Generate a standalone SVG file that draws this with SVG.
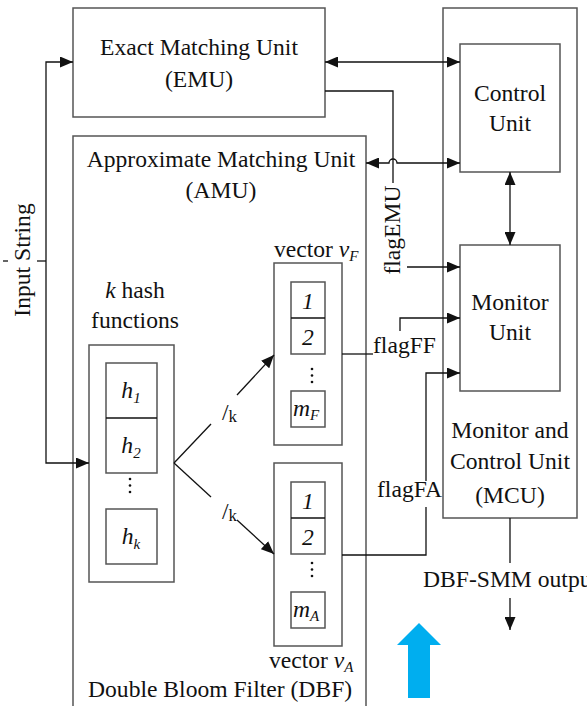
<svg xmlns="http://www.w3.org/2000/svg" width="587" height="706" viewBox="0 0 587 706">
<defs>
<style>
.box{fill:none;stroke:#555;stroke-width:1.5}
.ln{fill:none;stroke:#111;stroke-width:1.3}
.div{stroke:#111;stroke-width:1.5}
.t{font-family:"Liberation Serif","Times New Roman",serif;font-size:23.6px;fill:#111}
.i{font-style:italic}
.m{text-anchor:middle}
</style>
<marker id="ah" viewBox="0 0 13 11" refX="13" refY="5.5" markerWidth="13" markerHeight="11" markerUnits="userSpaceOnUse" orient="auto-start-reverse">
<path d="M0,0 L13,5.5 L0,11 z" fill="#111"/>
</marker>
</defs>
<rect width="587" height="706" fill="#fff"/>

<g id="emu">
<rect class="box" x="73" y="8" width="252" height="109"/>
<text class="t m" x="199" y="55">Exact Matching Unit</text>
<text class="t m" x="199" y="87">(EMU)</text>
</g>

<g id="amu">
<path class="box" d="M73,706 V136 H366 V706"/>
<text class="t m" x="221" y="167">Approximate Matching Unit</text>
<text class="t m" x="221" y="198">(AMU)</text>
<text class="t" x="88" y="697">Double Bloom Filter (DBF)</text>
</g>

<g id="mcu">
<rect class="box" x="443" y="8" width="134" height="510"/>
<text class="t m" x="510" y="438">Monitor and</text>
<text class="t m" x="510" y="469">Control Unit</text>
<text class="t m" x="510" y="503">(MCU)</text>
</g>

<g id="control-unit">
<rect class="box" x="460" y="44" width="100" height="128"/>
<text class="t m" x="510" y="101">Control</text>
<text class="t m" x="510" y="131">Unit</text>
</g>

<g id="monitor-unit">
<rect class="box" x="460" y="245" width="100" height="146"/>
<text class="t m" x="510" y="310">Monitor</text>
<text class="t m" x="510" y="340">Unit</text>
</g>

<g id="hash-functions">
<text class="t m" x="135" y="298"><tspan class="i">k</tspan> hash</text>
<text class="t m" x="135" y="328">functions</text>
<rect class="box" x="89" y="345" width="85" height="237"/>
<rect class="box" x="106" y="363" width="51" height="110"/>
<line class="div" x1="106" y1="418" x2="157" y2="418"/>
<rect class="box" x="106" y="509" width="51" height="55"/>
<text class="t i m" x="131" y="398">h<tspan font-size="15" dy="5">1</tspan></text>
<text class="t i m" x="131" y="453">h<tspan font-size="15" dy="5">2</tspan></text>
<text class="t i m" x="131" y="544">h<tspan font-size="15" dy="5">k</tspan></text>
<g fill="#111"><circle cx="130" cy="479" r="1.3"/><circle cx="130" cy="485.5" r="1.3"/><circle cx="130" cy="492" r="1.3"/></g>
</g>

<g id="vector-vF">
<text class="t" x="274" y="257">vector <tspan class="i">v</tspan><tspan class="i" font-size="15" dy="4">F</tspan></text>
<rect class="box" x="274" y="263" width="68" height="182"/>
<rect class="box" x="291" y="282" width="34" height="72"/>
<line class="div" x1="291" y1="318" x2="325" y2="318"/>
<rect class="box" x="291" y="391" width="34" height="36"/>
<text class="t i m" x="308" y="309">1</text>
<text class="t i m" x="308" y="345">2</text>
<text class="t i m" x="306" y="416">m<tspan font-size="15" dy="4">F</tspan></text>
<g fill="#111"><circle cx="312" cy="369" r="1.3"/><circle cx="312" cy="375.5" r="1.3"/><circle cx="312" cy="382" r="1.3"/></g>
</g>

<g id="vector-vA">
<text class="t" x="269" y="668">vector <tspan class="i">v</tspan><tspan class="i" font-size="15" dy="4">A</tspan></text>
<rect class="box" x="274" y="463" width="68" height="183"/>
<rect class="box" x="291" y="482" width="34" height="72"/>
<line class="div" x1="291" y1="518" x2="325" y2="518"/>
<rect class="box" x="291" y="592" width="34" height="36"/>
<text class="t i m" x="308" y="509">1</text>
<text class="t i m" x="308" y="545">2</text>
<text class="t i m" x="306" y="617">m<tspan font-size="15" dy="4">A</tspan></text>
<g fill="#111"><circle cx="312" cy="563" r="1.3"/><circle cx="312" cy="569.5" r="1.3"/><circle cx="312" cy="576" r="1.3"/></g>
</g>

<g id="connectors">
<path class="ln" d="M73,62 H46 V463 H89" marker-start="url(#ah)" marker-end="url(#ah)"/>
<line class="ln" x1="3" y1="261" x2="8" y2="261"/>
<line class="ln" x1="37" y1="261" x2="46" y2="261"/>
<text class="t m" transform="translate(30,260) rotate(-90)">Input String</text>
<path class="ln" d="M325,62 H460" marker-start="url(#ah)" marker-end="url(#ah)"/>
<path class="ln" d="M366,163 H389 A4,4 0 0 1 397,163 H460" marker-start="url(#ah)" marker-end="url(#ah)"/>
<path class="ln" d="M325,91 H393 V183"/>
<text class="t m" transform="translate(400,230) rotate(-90)">flagEMU</text>
<path class="ln" d="M407,267 H460" marker-end="url(#ah)"/>
<path class="ln" d="M510,172 V245" marker-start="url(#ah)" marker-end="url(#ah)"/>
<line class="ln" x1="174" y1="463" x2="211" y2="424"/>
<path class="ln" d="M237,395 L274,355" marker-end="url(#ah)"/>
<text class="t" x="222" y="420">/<tspan font-size="17" dy="2">k</tspan></text>
<line class="ln" x1="174" y1="463" x2="211" y2="497"/>
<path class="ln" d="M237,520 L274,554" marker-end="url(#ah)"/>
<text class="t" x="222" y="519">/<tspan font-size="17" dy="2">k</tspan></text>
<line class="ln" x1="342" y1="354" x2="373" y2="354"/>
<text class="t" x="373" y="353">flagFF</text>
<path class="ln" d="M400,331 V318 H460" marker-end="url(#ah)"/>
<path class="ln" d="M342,555 H426 V507"/>
<text class="t" x="377" y="497">flagFA</text>
<path class="ln" d="M426,481 V373 H460" marker-end="url(#ah)"/>
<line class="ln" x1="510" y1="518" x2="510" y2="563"/>
<text class="t" x="423" y="587">DBF-SMM output</text>
<path class="ln" d="M510,598 V630" marker-end="url(#ah)"/>
</g>

<g id="blue-arrow">
<polygon points="397,645 419,623 441,645 430,645 430,698 408,698 408,645" fill="#00AEEF"/>
</g>
</svg>
